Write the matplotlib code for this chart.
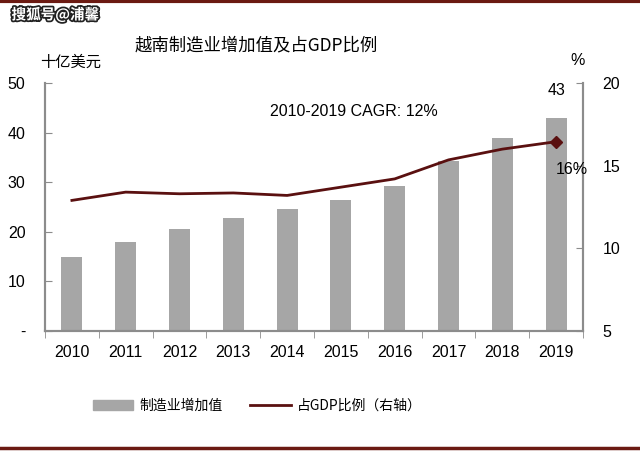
import matplotlib.pyplot as plt
import matplotlib.patheffects as pe
from matplotlib.lines import Line2D
from matplotlib.patches import Patch
import numpy as np

plt.rcParams['font.family'] = ['Liberation Sans', 'Noto Sans CJK SC', 'DejaVu Sans']

# data
years = ['2010', '2011', '2012', '2013', '2014', '2015', '2016', '2017', '2018', '2019']
value_added = [15.0, 18.0, 20.6, 22.8, 24.5, 26.4, 29.2, 34.3, 39.0, 43.0]   # 十亿美元
gdp_share = [12.9, 13.4, 13.3, 13.35, 13.2, 13.7, 14.2, 15.35, 16.0, 16.45]  # %

left_ticks = [0, 10, 20, 30, 40, 50]
left_labels = ['-', '10', '20', '30', '40', '50']
right_ticks = [5, 10, 15, 20]

bar_color = '#a6a6a6'
line_color = '#5a1010'
axis_color = '#8c8c8c'

fig = plt.figure(figsize=(6.4, 4.51), dpi=100)
ax = fig.add_axes([0.0703, 0.266, 0.8407, 0.55])
ax2 = ax.twinx()

x = np.arange(len(years))
ax.bar(x, value_added, width=0.39, color=bar_color, zorder=2)
ax2.plot(x, gdp_share, color=line_color, lw=2, zorder=3)
ax2.plot(x[-1], gdp_share[-1], marker='D', ms=6, color=line_color, zorder=4)

ax.set_xlim(-0.5, len(years) - 0.5)
ax.set_ylim(0, 50)
ax2.set_ylim(5, 20)

ax.set_xticks(x)
ax.set_xticklabels(years, fontsize=11.5)
ax.set_xticks(np.arange(-0.5, len(years)), minor=True)
ax.tick_params(axis='x', which='major', length=0, pad=10)
ax.tick_params(axis='x', which='minor', length=5, direction='out', color=axis_color)

ax.set_yticks(left_ticks)
ax.set_yticklabels(left_labels, fontsize=11.5)
ax.tick_params(axis='y', direction='in', length=5, color=axis_color, pad=14)
ax2.set_yticks(right_ticks)
ax2.set_yticklabels([str(t) for t in right_ticks], fontsize=11.5)
ax2.tick_params(axis='y', direction='in', length=5, color=axis_color, pad=14)

for a in (ax, ax2):
    a.spines['top'].set_visible(False)
    for s in ('left', 'right', 'bottom'):
        a.spines[s].set_color(axis_color)
        a.spines[s].set_linewidth(1.5)

# annotations
ax.text(5.24, 44.3, '2010-2019 CAGR: 12%', fontsize=11.5, ha='center', va='center')
ax.text(x[-1], value_added[-1] + 5.4, '43', fontsize=11.5, ha='center', va='center')
ax2.text(x[-1] + 0.3, 14.75, '16%', fontsize=11.5, ha='center', va='center')

fig.text(0.4, 0.9, '越南制造业增加值及占GDP比例', fontsize=12.5, ha='center', va='center',
         family=['Noto Sans CJK SC'], weight='medium')
fig.text(0.063, 0.862, '十亿美元', fontsize=11, ha='left', va='center', family=['Noto Sans CJK SC'])
fig.text(0.902, 0.866, '%', fontsize=11.5, ha='center', va='center')

# watermark
fig.text(0.018, 0.967, '搜狐号@浦馨', fontsize=10.5, ha='left', va='center', color='white',
         family=['Noto Sans CJK SC'], weight='bold',
         path_effects=[pe.withStroke(linewidth=2.5, foreground='#222222')])

# legend
handles = [Patch(color=bar_color), Line2D([0], [0], color=line_color, lw=2)]
fig.legend(handles, ['制造业增加值', '占GDP比例（右轴）'], loc='center', bbox_to_anchor=(0.402, 0.1),
           ncol=2, frameon=False, prop={'family': ['Noto Sans CJK SC'], 'size': 10},
           handlelength=2.9, columnspacing=2.0, handletextpad=0.45)

# border lines
fig.add_artist(Line2D([0, 1], [0.997, 0.997], color='#6b1a12', lw=3))
fig.add_artist(Line2D([0, 1], [0.007, 0.007], color='#6b1a12', lw=2.5))

fig.savefig('out.png', dpi=100)
